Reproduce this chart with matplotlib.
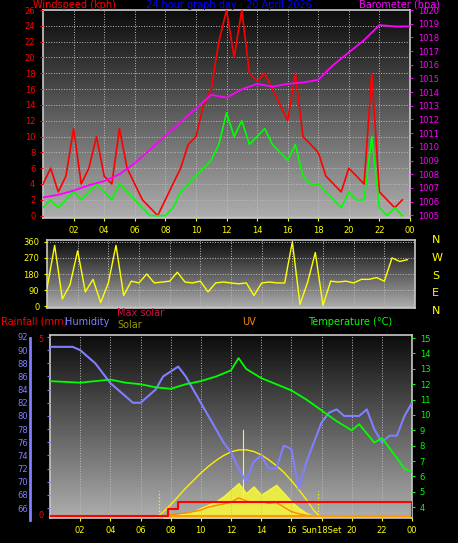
import numpy as np
import matplotlib
matplotlib.use("Agg")
import matplotlib.pyplot as plt

# --- data ---
half_hours = np.arange(48) * 0.5
wind_gust = [4, 6, 3, 5, 11, 4, 6, 10, 5, 4, 11, 6,
             4, 2, 1, 0, 2, 4,
             6, 9, 10, 14, 16, 22,
             26, 20, 26, 18, 17, 18,
             16, 14, 12, 18, 10, 9,
             8, 5, 4, 3, 6, 5,
             4, 18, 3, 2, 1, 2]
wind_avg = [1, 2, 1, 2, 3, 2, 3, 4, 3, 2, 4, 3,
            2, 1, 0, 0, 0, 1,
            3, 4, 5, 6, 7, 9,
            13, 10, 12, 9, 10, 11,
            9, 8, 7, 9, 5, 4,
            4, 3, 2, 1, 3, 2,
            2, 10, 1, 0, 1, 0]
hours = np.arange(25)
baro = [1006.3, 1006.5, 1006.8, 1007.2, 1007.5, 1008.0, 1008.8, 1009.8, 1010.8,
        1011.8, 1012.8, 1013.8, 1013.6, 1014.2, 1014.6, 1014.4, 1014.6, 1014.7,
        1014.9, 1016.0, 1016.9, 1017.8, 1018.9, 1018.8, 1018.8]
wind_dir = [100, 340, 40, 120, 310, 80, 150, 20, 130, 340, 60, 140,
            130, 180, 130, 135, 140, 190,
            135, 130, 140, 80, 130, 135,
            130, 125, 130, 60, 130, 135,
            130, 130, 360, 10, 135, 300,
            5, 140, 135, 140, 130, 150,
            150, 160, 140, 270, 250, 260]
hum_t = [0, 1.5, 2, 3, 4, 4.5, 5, 5.5, 6, 6.5, 7, 7.5, 8.5, 9, 9.5, 10, 10.5, 11,
         11.5, 12, 12.5, 13, 13.5, 14, 14.5, 15, 15.5, 16, 16.5, 17, 17.5, 18,
         18.5, 19, 19.5, 20, 20.5, 21, 21.5, 22, 22.5, 23, 23.5, 24]
humidity = [90.5, 90.5, 90, 88, 85, 84, 83, 82, 82, 83, 84, 86, 87.5, 86, 84, 82,
            80, 78, 76, 74.5, 72, 70, 73, 74, 72, 72, 75.5, 75, 69, 73, 76, 79,
            80.5, 81, 80, 80, 80, 81, 78, 76, 77, 77, 80, 82]
temp_t = [0, 2, 4, 5, 6, 7, 8, 9, 10, 11, 12, 12.5, 13, 14, 15, 16, 17, 18, 19,
          20, 20.5, 21, 21.5, 22, 23, 23.5, 24]
temperature = [12.2, 12.1, 12.3, 12.1, 12.0, 11.8, 11.7, 12.0, 12.2, 12.5, 12.9,
               13.7, 13.0, 12.4, 12.0, 11.6, 11.0, 10.3, 9.6, 9.0, 9.4, 8.8, 8.2,
               8.5, 7.2, 6.5, 6.3]
rain_t = [0, 7.8, 8.5, 23.9, 24]
rain = [0, 0.2, 0.4, 0.4, 0]
maxsolar_t = np.arange(7, 18.5, 0.5)
max_solar = [0, 70, 160, 260, 360, 450, 540, 620, 690, 750, 795, 818, 820, 800,
             760, 700, 630, 550, 450, 340, 220, 90, 0]
solar_t = np.arange(7.5, 18.5, 0.5)
solar = [10, 20, 40, 60, 80, 120, 160, 200, 260, 340, 420, 300, 380, 280, 340,
         400, 300, 200, 120, 60, 20, 0]
uv = [0, 0.5, 0.8, 1, 1.5, 2, 3, 3.5, 4, 4.5, 6, 5, 4.5, 4.8, 4.2, 4.5, 3, 1.5,
      0.8, 0.3, 0, 0]
sunrise, sunset = 7.2, 17.8
xticks = list(range(2, 25, 2))
xlabels = ["02", "04", "06", "08", "10", "12", "14", "16", "18", "20", "22", "00"]
xlabels_sun = ["02", "04", "06", "08", "10", "12", "14", "16", "Sun18Set", "20", "22", "00"]

W, H = 458, 543
fig = plt.figure(figsize=(W / 100, H / 100), dpi=100)
fig.patch.set_facecolor("black")
plt.rcParams["font.family"] = "DejaVu Sans"


def make_ax(l, t, r, b):
    ax = fig.add_axes([l / W, 1 - b / H, (r - l) / W, (b - t) / H])
    ax.set_facecolor("black")
    grad = np.linspace(0.05, 0.68, 100).reshape(-1, 1)
    ax.imshow(grad, cmap="gray", vmin=0, vmax=1, aspect="auto",
              extent=[0, 1, 0, 1], transform=ax.transAxes, zorder=0)
    for s in ax.spines.values():
        s.set_color("#c8c8c8")
        s.set_linewidth(1.2)
    ax.grid(True, color="#bdbdbd", linestyle=":", linewidth=0.7)
    ax.set_axisbelow(False)
    ax.set_xlim(0, 24)
    ax.set_xticks(xticks)
    ax.tick_params(labelsize=6, length=2)
    return ax


# --- panel 1: wind + barometer ---
ax1 = make_ax(43, 10, 410, 218)
ax1.plot(half_hours, wind_gust, color="#ff0000", lw=1.2, zorder=3)
ax1.plot(half_hours, wind_avg, color="#00ff00", lw=1.2, zorder=4)
ax1.set_ylim(-0.3, 26)
ax1.set_yticks(range(0, 27, 2))
ax1.tick_params(axis="y", colors="#ff0000", labelcolor="#ff0000")
ax1.tick_params(axis="x", colors="#ffff00", labelcolor="#ffff00")
ax1.set_xticklabels(xlabels)
ax1b = ax1.twinx()
ax1b.plot(hours, baro, color="#ff00ff", lw=1.3, zorder=5)
ax1b.set_ylim(1004.8, 1020)
ax1b.set_yticks(range(1005, 1021))
ax1b.tick_params(axis="y", colors="#ff00ff", labelcolor="#ff00ff", labelsize=6, length=2)
for s in ax1b.spines.values():
    s.set_visible(False)

fig.text(33 / W, 1 - 5 / H, "Windspeed (kph)", color="#ff0000", fontsize=7, va="center")
fig.text(0.5, 1 - 5 / H, "24 hour graph day : 20 April 2026", color="#0000ff",
         fontsize=7, va="center", ha="center")
fig.text(440 / W, 1 - 5 / H, "Barometer (hpa)", color="#ff00ff", fontsize=7,
         va="center", ha="right")

# --- panel 2: wind direction ---
ax2 = make_ax(47, 240, 415, 308)
ax2.plot(half_hours, wind_dir, color="#ffff00", lw=1.0, zorder=3)
ax2.set_ylim(-10, 370)
ax2.set_yticks([0, 90, 180, 270, 360])
ax2.set_xticklabels([])
ax2.tick_params(axis="y", colors="#ffff00", labelcolor="#ffff00")
ax2.tick_params(axis="x", length=0)
for lab, yy in zip(["N", "W", "S", "E", "N"], [240, 258, 276, 293, 311]):
    fig.text(432 / W, 1 - yy / H, lab, color="#ffff00", fontsize=8, va="center")

# --- panel 3: rain, humidity, solar, uv, temperature ---
ax3 = make_ax(50, 335, 412, 518)
ax3.set_ylim(0, 1)
ax3.set_yticks([])
ax3.tick_params(axis="x", colors="#ffff00", labelcolor="#ffff00")
ax3.set_xticklabels(xlabels_sun)
sc = 2200.0
ax3.fill_between(solar_t, np.array(solar) / sc, color="#ffff33", alpha=0.8, zorder=2)
ax3.plot(maxsolar_t, np.array(max_solar) / sc, color="#ffee00", lw=1.0, zorder=3)
ax3.plot([12.8, 12.8], [0.1, 0.48], color="#ffff00", lw=0.8, zorder=3)
ax3.plot(solar_t, np.array(uv) / 60 + 0.01, color="#ff8800", lw=1.0, zorder=4)
ax3.axhline(0.01, color="#ff9900", lw=1.5, zorder=4)
for xs in (sunrise, sunset):
    ax3.axvline(xs, ymax=0.15, color="#ffff00", ls=":", lw=0.9, zorder=4)
ax3.plot(rain_t, [v / 5 + 0.01 for v in rain], drawstyle="steps-post",
         color="#ff0000", lw=1.5, zorder=5)

axh = ax3.twinx()
axh.yaxis.tick_left()
axh.plot(hum_t, humidity, color="#7f7fff", lw=1.5, zorder=6)
axh.set_ylim(64.5, 92.3)
axh.set_yticks(range(66, 93, 2))
axh.tick_params(axis="y", colors="#7f7fff", labelcolor="#7f7fff", labelsize=6,
                length=2, pad=14)
axt = ax3.twinx()
axt.plot(temp_t, temperature, color="#00ff00", lw=1.3, zorder=7)
axt.set_ylim(3.3, 15.2)
axt.set_yticks(range(4, 16))
axt.tick_params(axis="y", colors="#00ff00", labelcolor="#00ff00", labelsize=6, length=2)
for a in (axh, axt):
    for s in a.spines.values():
        s.set_visible(False)
fig.add_artist(plt.Line2D([30 / W, 30 / W], [1 - 338 / H, 1 - 520 / H],
                          color="#7f7fff", lw=2))
fig.text(44 / W, 1 - 516 / H, "0", color="#ff0000", fontsize=6, ha="right", va="center")
fig.text(44 / W, 1 - 340 / H, "5", color="#ff0000", fontsize=6, ha="right", va="center")

fig.text(1 / W, 1 - 322 / H, "Rainfall (mm)", color="#ff0000", fontsize=7, va="center")
fig.text(65 / W, 1 - 322 / H, "Humidity", color="#7f7fff", fontsize=7, va="center")
fig.text(117 / W, 1 - 313 / H, "Max solar", color="#cc1144", fontsize=7, va="center")
fig.text(117 / W, 1 - 325 / H, "Solar", color="#999900", fontsize=7, va="center")
fig.text(242 / W, 1 - 322 / H, "UV", color="#ff8800", fontsize=7, va="center")
fig.text(308 / W, 1 - 322 / H, "Temperature (\u00b0C)", color="#00ff00", fontsize=7,
         va="center")

fig.savefig("out.png", dpi=100, facecolor="black")
